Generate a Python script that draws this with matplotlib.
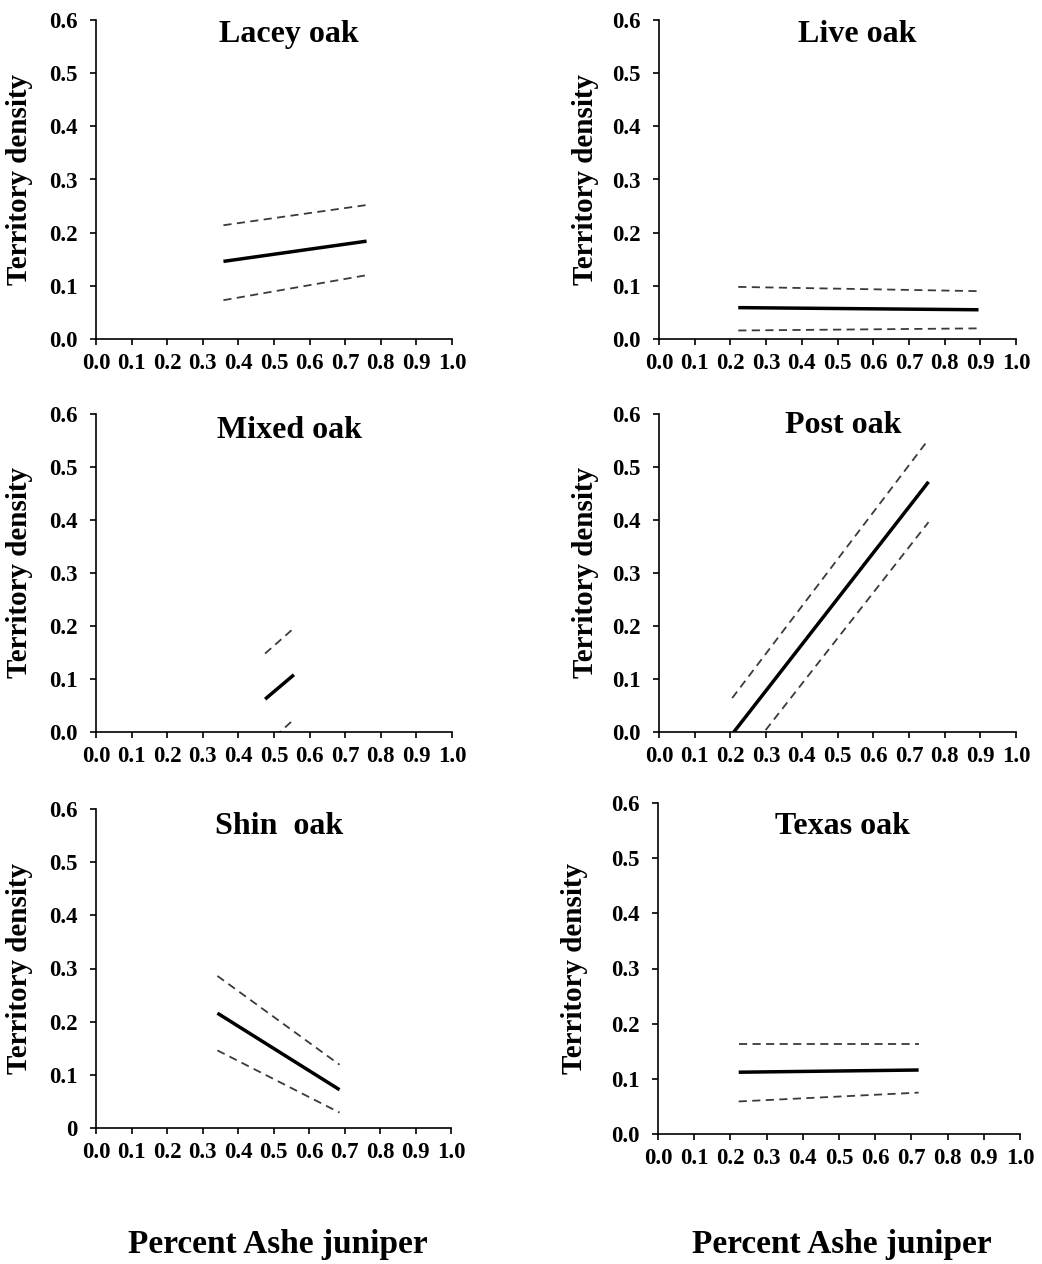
import numpy as np
import matplotlib
matplotlib.use("Agg")
import matplotlib.pyplot as plt

plt.rcParams['font.family'] = ['Liberation Serif', 'DejaVu Serif']
plt.rcParams['font.weight'] = 'bold'

# Fitted territory density vs. proportion of Ashe juniper (line ends),
# with the upper and lower confidence limits, one set per oak type
species = ['Lacey oak', 'Live oak', 'Mixed oak', 'Post oak', 'Shin  oak', 'Texas oak']

pct_lacey = [0.358, 0.760]
fit_lacey = [0.146, 0.184]
upr_lacey = [0.214, 0.252]
lwr_lacey = [0.073, 0.120]

pct_live = [0.222, 0.895]
fit_live = [0.059, 0.055]
upr_live = [0.098, 0.090]
lwr_live = [0.016, 0.020]

pct_mixed = [0.475, 0.556]
fit_mixed = [0.062, 0.108]
upr_mixed = [0.148, 0.196]
lwr_mixed = [-0.026, 0.024]

pct_post = [0.205, 0.755]
fit_post = [-0.004, 0.472]
upr_post = [0.064, 0.552]
lwr_post = [-0.077, 0.396]

pct_shin = [0.342, 0.686]
fit_shin = [0.216, 0.072]
upr_shin = [0.286, 0.119]
lwr_shin = [0.146, 0.029]

pct_texas = [0.223, 0.720]
fit_texas = [0.112, 0.116]
upr_texas = [0.163, 0.163]
lwr_texas = [0.059, 0.075]

pct = [pct_lacey, pct_live, pct_mixed, pct_post, pct_shin, pct_texas]
fit = [fit_lacey, fit_live, fit_mixed, fit_post, fit_shin, fit_texas]
upr = [upr_lacey, upr_live, upr_mixed, upr_post, upr_shin, upr_texas]
lwr = [lwr_lacey, lwr_live, lwr_mixed, lwr_post, lwr_shin, lwr_texas]

xticks = np.round(np.arange(0, 1.01, 0.1), 1)
xticklabels = ['%.1f' % v for v in xticks]
yticks = np.round(np.arange(0, 0.61, 0.1), 1)
yticklabels = ['%.1f' % v for v in yticks]
yticklabels_shin = ['0'] + yticklabels[1:]

# Panel placement [left, bottom, width, height] in figure fractions
W, H = 1042, 1264
boxes = [
    [96 / W, 1 - 339 / H, 356 / W, 319 / H],
    [659 / W, 1 - 339 / H, 357 / W, 319 / H],
    [96 / W, 1 - 732 / H, 356 / W, 318 / H],
    [659 / W, 1 - 732 / H, 357 / W, 318 / H],
    [96 / W, 1 - 1128 / H, 355 / W, 319 / H],
    [658 / W, 1 - 1134 / H, 362 / W, 331 / H],
]
title_xy = [(0.542, 0.953), (0.556, 0.953), (0.544, 0.947),
            (0.515, 0.965), (0.517, 0.944), (0.510, 0.930)]
ylab_x = [-0.215, -0.205, -0.215, -0.205, -0.215, -0.230]

fig = plt.figure(figsize=(W / 100, H / 100), dpi=100)

for i in range(6):
    ax = fig.add_axes(boxes[i])
    ax.plot(pct[i], upr[i], color='#3a3a3a', lw=1.3, ls=(0, (4.5, 3)))
    ax.plot(pct[i], lwr[i], color='#3a3a3a', lw=1.3, ls=(0, (4.5, 3)))
    ax.plot(pct[i], fit[i], color='black', lw=2.5, solid_capstyle='butt')

    ax.set_xlim(0, 1.0)
    ax.set_ylim(0, 0.6)
    ax.set_xticks(xticks)
    ax.set_xticklabels(xticklabels)
    ax.set_yticks(yticks)
    ax.set_yticklabels(yticklabels_shin if i == 4 else yticklabels)
    ax.tick_params(direction='out', length=4, width=1.2, labelsize=16.5)
    ax.tick_params(axis='x', pad=6)
    ax.tick_params(axis='y', pad=9)
    for s in ['top', 'right']:
        ax.spines[s].set_visible(False)
    for s in ['left', 'bottom']:
        ax.spines[s].set_linewidth(1.2)

    ax.text(title_xy[i][0], title_xy[i][1], species[i], transform=ax.transAxes,
            ha='center', va='center', fontsize=23, fontweight='bold')
    ax.set_ylabel('Territory density', fontsize=21, fontweight='bold', va='center')
    ax.yaxis.set_label_coords(ylab_x[i], 0.5)

# Shared x-axis titles under each column
fig.text(278 / W, 1 - 1245 / H, 'Percent Ashe juniper', ha='center', va='center',
         fontsize=24, fontweight='bold')
fig.text(842 / W, 1 - 1245 / H, 'Percent Ashe juniper', ha='center', va='center',
         fontsize=24, fontweight='bold')

fig.savefig('out.png', dpi=100)
